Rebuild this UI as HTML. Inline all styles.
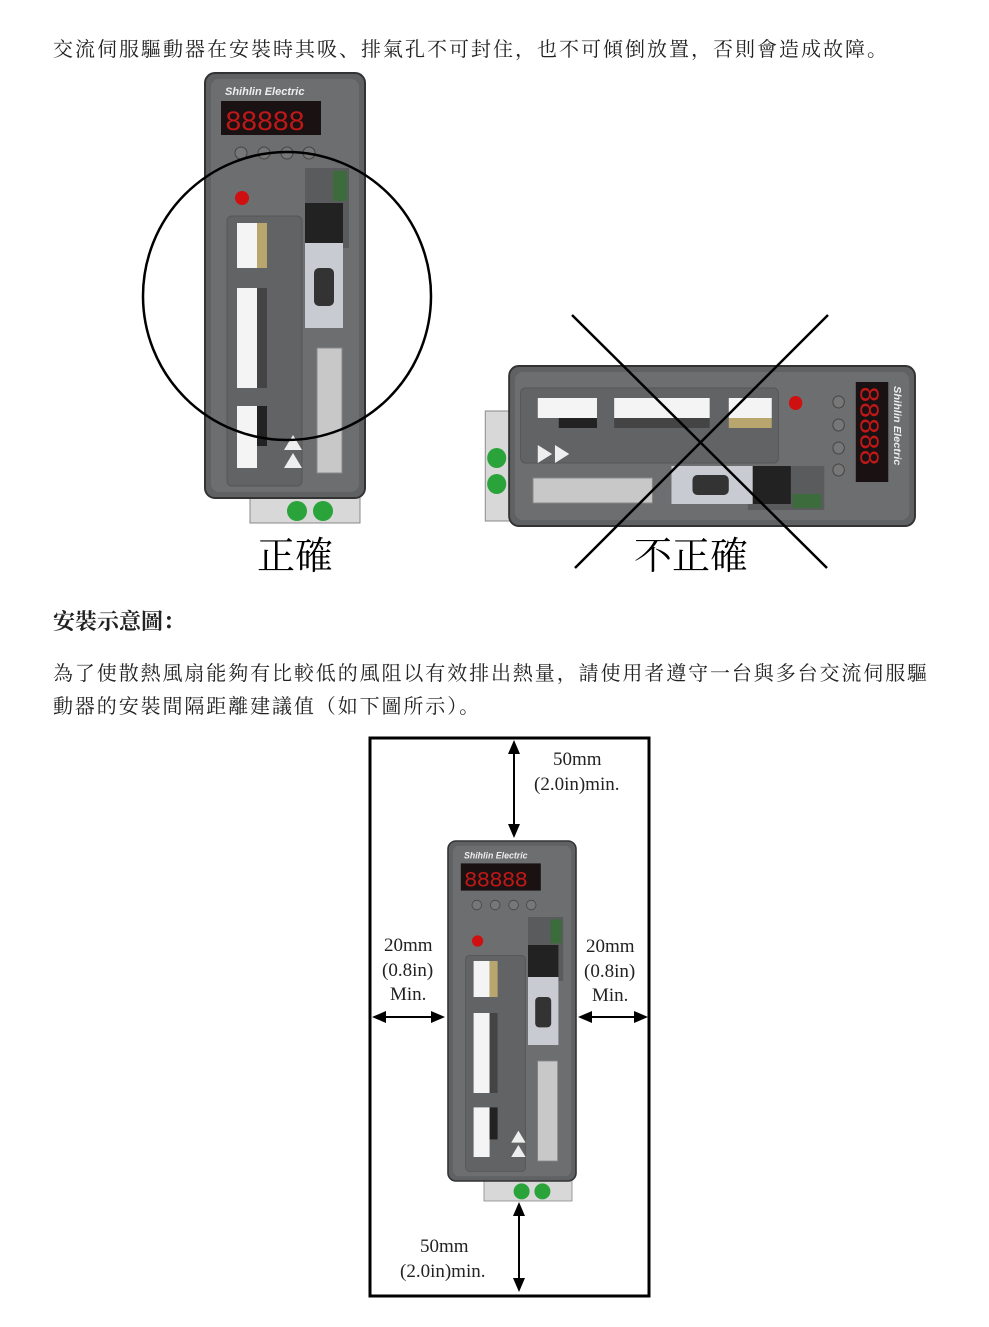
<!DOCTYPE html>
<html><head><meta charset="utf-8"><style>
body{margin:0;background:#fff;width:989px;height:1327px;overflow:hidden;position:relative;font-family:"Liberation Serif","Noto Serif CJK SC","Noto Sans CJK TC",serif;color:#222}
.t{position:absolute;white-space:nowrap}
</style></head><body>
<div class="t" style="left:53px;top:33px;font-size:20px;letter-spacing:2px">交流伺服驅動器在安裝時其吸、排氣孔不可封住，也不可傾倒放置，否則會造成故障。</div>
<div class="t" style="left:53px;top:605px;font-size:22px;font-weight:bold">安裝示意圖：</div>
<div class="t" style="left:53px;top:657px;font-size:20px;letter-spacing:1.9px">為了使散熱風扇能夠有比較低的風阻以有效排出熱量，請使用者遵守一台與多台交流伺服驅</div>
<div class="t" style="left:53px;top:690px;font-size:20px;letter-spacing:1.9px">動器的安裝間隔距離建議值（如下圖所示）。</div>
<svg width="989" height="1327" style="position:absolute;left:0;top:0" font-family="Liberation Serif">
<defs>
<g id="drv">
 <rect x="45" y="415" width="110" height="35" fill="#d8d8d8" stroke="#888"/>
 <rect x="0" y="0" width="160" height="425" rx="10" fill="#606163" stroke="#333" stroke-width="2"/>
 <rect x="6" y="6" width="148" height="413" rx="8" fill="#6d6e70"/>
 <text x="20" y="22" font-size="11" font-style="italic" font-weight="bold" fill="#eee" font-family="Liberation Sans">Shihlin Electric</text>
 <rect x="16" y="28" width="100" height="34" fill="#1a1212"/>
 <text x="20" y="57" font-size="28" fill="#c01818" font-family="Liberation Mono" letter-spacing="-1">88888</text>
 <circle cx="36" cy="80" r="6" fill="#777" stroke="#444"/><circle cx="59" cy="80" r="6" fill="#777" stroke="#444"/><circle cx="82" cy="80" r="6" fill="#777" stroke="#444"/><circle cx="104" cy="80" r="6" fill="#777" stroke="#444"/>
 <circle cx="37" cy="125" r="7" fill="#d01010"/>
 <rect x="22" y="143" width="75" height="270" rx="5" fill="#626365" stroke="#555"/>
 <rect x="100" y="95" width="44" height="80" fill="#5a5b5d"/>
 <rect x="128" y="98" width="14" height="30" fill="#3c6b3c"/>
 <rect x="100" y="130" width="38" height="40" fill="#222"/>
 <rect x="100" y="170" width="38" height="85" fill="#c8ccd2"/>
 <rect x="109" y="195" width="20" height="38" rx="5" fill="#333"/>
 <rect x="112" y="275" width="25" height="125" fill="#c8c8c8" stroke="#888"/>
 <rect x="32" y="150" width="20" height="45" fill="#f4f4f4"/><rect x="52" y="150" width="10" height="45" fill="#b8a66e"/>
 <rect x="32" y="215" width="20" height="100" fill="#f4f4f4"/><rect x="52" y="215" width="10" height="100" fill="#444"/>
 <rect x="32" y="333" width="20" height="62" fill="#f4f4f4"/><rect x="52" y="333" width="10" height="40" fill="#222"/>
 <path d="M88 362 l9 15 h-18z M88 380 l9 15 h-18z" fill="#eee"/>
 <circle cx="92" cy="438" r="10" fill="#2aa33a"/><circle cx="118" cy="438" r="10" fill="#2aa33a"/>
</g>
</defs>
<use href="#drv" transform="translate(205,73)"/>
<circle cx="287" cy="296" r="144" fill="none" stroke="#000" stroke-width="2.5"/>
<use href="#drv" transform="translate(915,366) rotate(90) scale(1,0.955)"/>
<line x1="572" y1="315" x2="827" y2="568" stroke="#000" stroke-width="2.5"/>
<line x1="828" y1="315" x2="575" y2="568" stroke="#000" stroke-width="2.5"/>
<text x="295" y="569" font-size="38" text-anchor="middle" font-family="Liberation Serif, Noto Serif CJK SC, serif">正確</text>
<text x="691" y="569" font-size="38" text-anchor="middle" font-family="Liberation Serif, Noto Serif CJK SC, serif">不正確</text>
<rect x="370" y="738" width="279" height="558" fill="none" stroke="#000" stroke-width="3"/>
<use href="#drv" transform="translate(448,841) scale(0.8,0.8)"/>
<g stroke="#000" stroke-width="2" fill="#000">
 <line x1="514" y1="750" x2="514" y2="828"/><path d="M514 740 l-6 14 h12z M514 838 l-6 -14 h12z" stroke="none"/>
 <line x1="519" y1="1212" x2="519" y2="1283"/><path d="M519 1202 l-6 14 h12z M519 1292 l-6 -14 h12z" stroke="none"/>
 <line x1="382" y1="1017" x2="435" y2="1017"/><path d="M372 1017 l14 -6 v12z M445 1017 l-14 -6 v12z" stroke="none"/>
 <line x1="588" y1="1017" x2="638" y2="1017"/><path d="M578 1017 l14 -6 v12z M648 1017 l-14 -6 v12z" stroke="none"/>
</g>
<g font-size="19" fill="#222">
 <text x="553" y="765">50mm</text><text x="534" y="790">(2.0in)min.</text>
 <text x="384" y="951">20mm</text><text x="382" y="976">(0.8in)</text><text x="390" y="1000">Min.</text>
 <text x="586" y="952">20mm</text><text x="584" y="977">(0.8in)</text><text x="592" y="1001">Min.</text>
 <text x="420" y="1252">50mm</text><text x="400" y="1277">(2.0in)min.</text>
</g>
</svg>
</body></html>
